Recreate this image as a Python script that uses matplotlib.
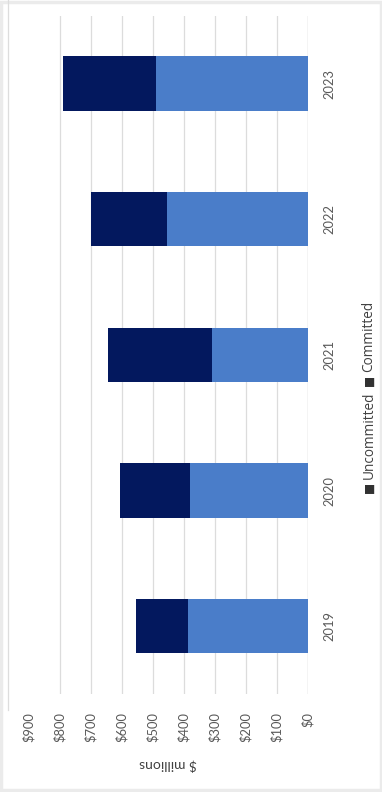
import matplotlib.pyplot as plt
from matplotlib.lines import Line2D
from matplotlib.patches import Rectangle

years = ['2019', '2020', '2021', '2022', '2023']
uncommitted = [387, 381, 310, 455, 490]
committed = [168, 225, 335, 245, 300]
value_ticks = [0, 100, 200, 300, 400, 500, 600, 700, 800, 900]
value_labels = ['$0', '$100', '$200', '$300', '$400', '$500', '$600', '$700', '$800', '$900']
legend_names = ['Uncommitted', 'Committed']

light_blue = '#4a7dc9'
navy = '#03185e'
text_gray = '#595959'

plt.rcParams['font.family'] = ['Lato', 'DejaVu Sans']

fig = plt.figure(figsize=(3.82, 7.92), dpi=100)
fig.patch.set_facecolor('white')

# chart is laid out turned a quarter turn: values run right-to-left, years bottom-to-top
ax = fig.add_axes([0.0759, 0.1237, 0.7303, 0.8565])
pos = list(range(len(years)))
ax.barh(pos, uncommitted, height=0.4, color=light_blue, zorder=3)
ax.barh(pos, committed, left=uncommitted, height=0.4, color=navy, zorder=3)

ax.set_xlim(900, 0)
ax.set_ylim(-0.5, len(years) - 0.5)

for v in value_ticks[1:-1]:
    ax.axvline(v, color='#dcdcdc', lw=0.9, zorder=1)
ax.axvline(0, color='#c8c8c8', lw=1.0, zorder=2)

for s in ax.spines.values():
    s.set_visible(False)

ax.set_xticks(value_ticks)
ax.set_xticklabels(value_labels, rotation=90, fontsize=9.3, color=text_gray)
ax.tick_params(axis='x', length=0, pad=13)

ax.yaxis.tick_right()
ax.set_yticks(pos)
ax.set_yticklabels(years, rotation=90, fontsize=9.3, color=text_gray, va='center')
ax.tick_params(axis='y', length=0, pad=11)

ax.set_xlabel('$ millions', rotation=180, fontsize=10, color='#404040', labelpad=12)

# legend entries, turned the same way as the chart
x_leg = 369 / 382
for sq_y, name in zip([487, 380], legend_names):
    fig.text(x_leg, 1 - sq_y / 792, '\u25a0', rotation=90, ha='center', va='center',
             fontsize=8.5, color='#303030', family='DejaVu Sans')
    fig.text(x_leg, 1 - (sq_y - 8) / 792, name, rotation=90, ha='center', va='bottom',
             fontsize=9.8, color='#404040', family='Open Sans')

# outer chart border
fig.add_artist(Rectangle((0.002, 0.002), 0.996, 0.996, transform=fig.transFigure,
                         fill=False, edgecolor='#ebebeb', lw=2.5))
fig.add_artist(Line2D([8 / 382, 8 / 382], [1, 1 - 710 / 792], transform=fig.transFigure,
                      color='#dddddd', lw=0.9))

fig.savefig('out.png', dpi=100)
